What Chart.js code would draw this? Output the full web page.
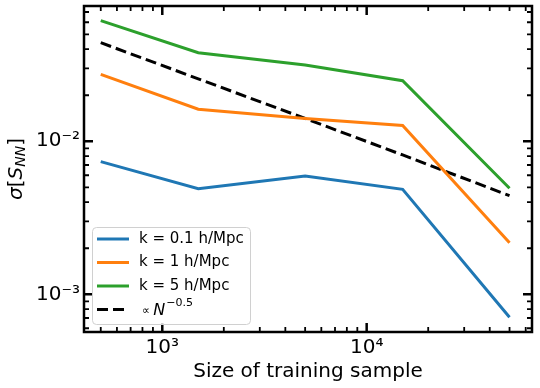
<!DOCTYPE html>
<html>
<head>
<meta charset="utf-8">
<script src="https://cdn.jsdelivr.net/npm/chart.js@4.4.1/dist/chart.umd.min.js"></script>
<style>
  html, body { margin: 0; padding: 0; background: #fff; }
  canvas { display: block; }
</style>
</head>
<body>
<canvas id="js--chart" width="540" height="388"></canvas>
<script>
// training sample sizes (x) and sigma[S_NN] per k (y)
const sampleSizes = [500, 1500, 5000, 15000, 50000];
const sigmaK01 = [0.00736, 0.0049, 0.00593, 0.00485, 0.000708];
const sigmaK1 = [0.0274, 0.0162, 0.0141, 0.0127, 0.00217];
const sigmaK5 = [0.0614, 0.0379, 0.0315, 0.0249, 0.00493];
const sigmaScaling = [0.0441, 0.0256, 0.0141, 0.00814, 0.00441];

const seriesLabels = ["k = 0.1 h/Mpc", "k = 1 h/Mpc", "k = 5 h/Mpc", "\u221D N^\u22120.5"];

const xTickValues = [1000, 10000];
const xTickLabels = ["10\u00B3", "10\u2074"];
const yTickValues = [0.001, 0.01];
const yTickLabels = ["10\u207B\u00B3", "10\u207B\u00B2"];

const xTitle = "Size of training sample";

Chart.defaults.font.family = "'DejaVu Sans', sans-serif";
Chart.defaults.color = "#000";

function points(values) {
  return sampleSizes.map(function (n, i) {
    return { x: n, y: values[i] };
  });
}

function logTicks(scale) {
  let ticks = [];
  for (let e = -5; e <= 6; e++) {
    for (let m = 1; m <= 9; m++) {
      let v = m * Math.pow(10, e);
      if (v >= scale.min && v <= scale.max) ticks.push({ value: v });
    }
  }
  scale.ticks = ticks;
}

function tickLabel(values, labels) {
  return function (value) {
    for (let i = 0; i < values.length; i++) {
      if (Math.abs(value - values[i]) < values[i] * 1e-6) return labels[i];
    }
    return "";
  };
}

function isMajor(value) {
  let e = Math.round(Math.log10(value));
  return Math.abs(value - Math.pow(10, e)) < value * 1e-6;
}

// inward ticks on all four sides + thick frame
const framePlugin = {
  id: "frame",
  afterDatasetsDraw: function (chart) {
    const ctx = chart.ctx;
    const a = chart.chartArea;
    const xs = chart.scales.x;
    const ys = chart.scales.y;
    ctx.save();
    ctx.strokeStyle = "#000";
    xs.ticks.forEach(function (t) {
      const px = xs.getPixelForValue(t.value);
      const len = isMajor(t.value) ? 9 : 5;
      ctx.lineWidth = isMajor(t.value) ? 2.5 : 1.8;
      ctx.beginPath();
      ctx.moveTo(px, a.bottom);
      ctx.lineTo(px, a.bottom - len);
      ctx.moveTo(px, a.top);
      ctx.lineTo(px, a.top + len);
      ctx.stroke();
    });
    ys.ticks.forEach(function (t) {
      const py = ys.getPixelForValue(t.value);
      const len = isMajor(t.value) ? 9 : 5;
      ctx.lineWidth = isMajor(t.value) ? 2.5 : 1.8;
      ctx.beginPath();
      ctx.moveTo(a.left, py);
      ctx.lineTo(a.left + len, py);
      ctx.moveTo(a.right, py);
      ctx.lineTo(a.right - len, py);
      ctx.stroke();
    });
    ctx.lineWidth = 2.5;
    ctx.strokeRect(a.left, a.top, a.right - a.left, a.bottom - a.top);
    ctx.restore();
  },
};

// y title with italic sigma and subscript NN
const yTitlePlugin = {
  id: "yTitle",
  afterDraw: function (chart) {
    const ctx = chart.ctx;
    const a = chart.chartArea;
    const parts = [
      { t: "\u03C3", f: "italic 20px 'DejaVu Sans'", dy: 0 },
      { t: "[", f: "20px 'DejaVu Sans'", dy: 0 },
      { t: "S", f: "italic 20px 'DejaVu Sans'", dy: 0 },
      { t: "NN", f: "italic 14px 'DejaVu Sans'", dy: 4 },
      { t: "]", f: "20px 'DejaVu Sans'", dy: 0 },
    ];
    ctx.save();
    ctx.translate(17, (a.top + a.bottom) / 2);
    ctx.rotate(-Math.PI / 2);
    ctx.fillStyle = "#000";
    ctx.textBaseline = "middle";
    let total = 0;
    parts.forEach(function (p) {
      ctx.font = p.f;
      p.w = ctx.measureText(p.t).width;
      total += p.w;
    });
    let x = -total / 2;
    parts.forEach(function (p) {
      ctx.font = p.f;
      ctx.fillText(p.t, x, p.dy);
      x += p.w;
    });
    ctx.restore();
  },
};

// legend box inside the lower left of the axes
const legendPlugin = {
  id: "boxLegend",
  afterDraw: function (chart) {
    const ctx = chart.ctx;
    const a = chart.chartArea;
    const bx = a.left + 8;
    const by = a.bottom - 105;
    const bw = 158;
    const bh = 97;
    ctx.save();
    ctx.fillStyle = "rgba(255,255,255,0.8)";
    ctx.strokeStyle = "#d0d0d0";
    ctx.lineWidth = 1;
    ctx.beginPath();
    ctx.roundRect(bx + 0.5, by + 0.5, bw, bh, 4);
    ctx.fill();
    ctx.stroke();
    chart.data.datasets.forEach(function (ds, i) {
      const rowY = by + 12 + i * 23.5;
      ctx.strokeStyle = ds.borderColor;
      ctx.lineWidth = 3;
      ctx.setLineDash(ds.borderDash || []);
      ctx.beginPath();
      ctx.moveTo(bx + 5, rowY);
      ctx.lineTo(bx + 37, rowY);
      ctx.stroke();
      ctx.setLineDash([]);
      ctx.fillStyle = "#000";
      ctx.textBaseline = "middle";
      const label = ds.label;
      let tx = bx + 47;
      if (label.indexOf("^") >= 0) {
        const base = label.split("^")[0];
        const exp = label.split("^")[1];
        ctx.font = "11px 'DejaVu Sans'";
        ctx.fillText(base.charAt(0), tx + 3, rowY + 2);
        tx += 3 + ctx.measureText(base.charAt(0) + " ").width;
        ctx.font = "italic 16px 'DejaVu Sans'";
        const rest = base.slice(1).trim();
        ctx.fillText(rest, tx, rowY + 1);
        tx += ctx.measureText(rest).width + 1;
        ctx.font = "11px 'DejaVu Sans'";
        ctx.fillText(exp, tx, rowY - 6);
      } else {
        ctx.font = "15px 'DejaVu Sans'";
        ctx.fillText(label, tx, rowY);
      }
    });
    ctx.restore();
  },
};

const data = {
  datasets: [
    { label: seriesLabels[0], data: points(sigmaK01), borderColor: "#1f77b4" },
    { label: seriesLabels[1], data: points(sigmaK1), borderColor: "#ff7f0e" },
    { label: seriesLabels[2], data: points(sigmaK5), borderColor: "#2ca02c" },
    { label: seriesLabels[3], data: points(sigmaScaling), borderColor: "#000", borderDash: [11, 5] },
  ],
};

data.datasets.forEach(function (ds) {
  ds.borderWidth = 3;
  ds.pointRadius = 0;
  ds.tension = 0;
  ds.fill = false;
});

const config = {
  type: "line",
  data: data,
  plugins: [framePlugin, yTitlePlugin, legendPlugin],
  options: {
    responsive: false,
    animation: false,
    layout: { padding: { top: 6, right: 8, left: 0, bottom: 0 } },
    plugins: { legend: { display: false }, tooltip: { enabled: false } },
    scales: {
      x: {
        type: "logarithmic",
        min: 414,
        max: 64400,
        afterBuildTicks: logTicks,
        afterFit: function (scale) {
          scale.height = 56;
          scale.paddingLeft = 0;
          scale.paddingRight = 0;
        },
        grid: { display: false, drawTicks: false },
        border: { display: false },
        ticks: {
          autoSkip: false,
          maxRotation: 0,
          padding: 4,
          font: { size: 20 },
          callback: tickLabel(xTickValues, xTickLabels),
        },
        title: {
          display: true,
          text: xTitle,
          font: { size: 20 },
          padding: { top: 0, bottom: 4 },
        },
      },
      y: {
        type: "logarithmic",
        min: 0.000567,
        max: 0.0766,
        afterBuildTicks: logTicks,
        afterFit: function (scale) {
          scale.width = 84;
          scale.paddingTop = 0;
          scale.paddingBottom = 0;
        },
        grid: { display: false, drawTicks: false },
        border: { display: false },
        ticks: {
          autoSkip: false,
          padding: 4,
          font: { size: 20 },
          callback: tickLabel(yTickValues, yTickLabels),
        },
      },
    },
  },
};

new Chart(document.getElementById("js--chart"), config);
</script>
</body>
</html>
